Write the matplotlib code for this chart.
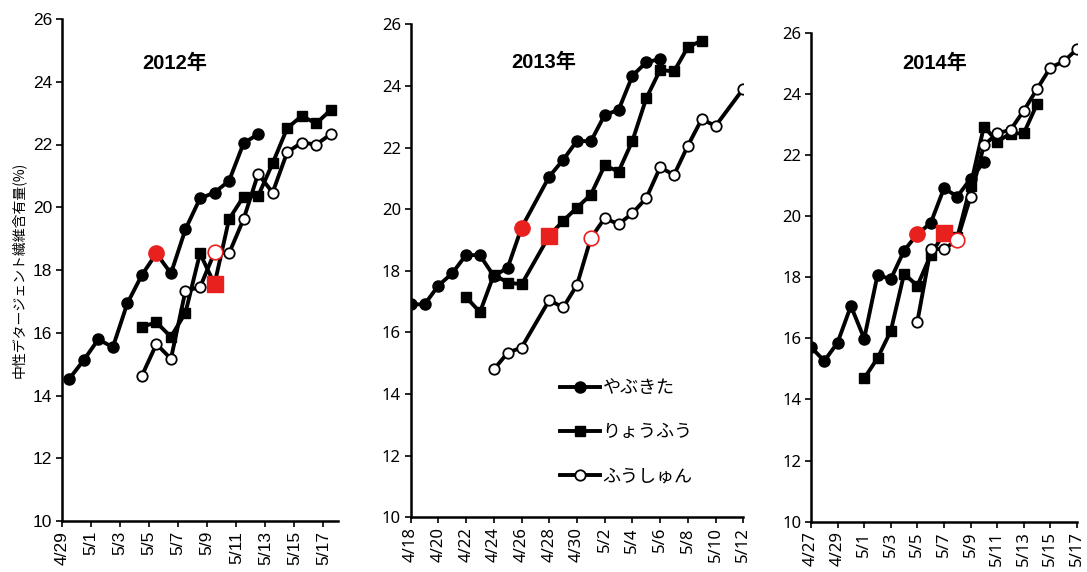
import datetime as dt
import numpy as np
import matplotlib
matplotlib.use("Agg")
import matplotlib.pyplot as plt

plt.rcParams['font.family'] = ['Liberation Sans', 'Noto Sans CJK JP', 'DejaVu Sans']

# ---- data ----
names = ['やぶきた', 'りょうふう', 'ふうしゅん']

# 2012
yab12_d = ['4/29', '4/30', '5/1', '5/2', '5/3', '5/4', '5/5', '5/6', '5/7', '5/8', '5/9', '5/10', '5/11', '5/12']
yab12_v = [14.53, 15.13, 15.79, 15.54, 16.94, 17.84, 18.53, 17.89, 19.30, 20.28, 20.47, 20.84, 22.04, 22.33]
ryo12_d = ['5/4', '5/5', '5/6', '5/7', '5/8', '5/9', '5/10', '5/11', '5/12', '5/13', '5/14', '5/15', '5/16', '5/17']
ryo12_v = [16.19, 16.33, 15.87, 16.64, 18.53, 17.55, 19.62, 20.34, 20.36, 21.40, 22.52, 22.91, 22.67, 23.10]
fus12_d = ['5/4', '5/5', '5/6', '5/7', '5/8', '5/9', '5/10', '5/11', '5/12', '5/13', '5/14', '5/15', '5/16', '5/17']
fus12_v = [14.63, 15.64, 15.17, 17.34, 17.45, 18.56, 18.53, 19.62, 21.06, 20.47, 21.75, 22.06, 22.00, 22.33]
red12 = ['5/5', '5/9', '5/9']

# 2013
yab13_d = ['4/18', '4/19', '4/20', '4/21', '4/22', '4/23', '4/24', '4/25', '4/26', '4/28', '4/29', '4/30',
           '5/1', '5/2', '5/3', '5/4', '5/5', '5/6']
yab13_v = [16.91, 16.91, 17.52, 17.92, 18.52, 18.50, 17.83, 18.10, 19.40, 21.06, 21.60, 22.22,
           22.20, 23.06, 23.22, 24.33, 24.77, 24.87]
ryo13_d = ['4/22', '4/23', '4/24', '4/25', '4/26', '4/28', '4/29', '4/30', '5/1', '5/2', '5/3', '5/4',
           '5/5', '5/6', '5/7', '5/8', '5/9']
ryo13_v = [17.14, 16.66, 17.87, 17.62, 17.56, 19.14, 19.62, 20.05, 20.47, 21.42, 21.22, 22.22,
           23.60, 24.52, 24.47, 25.26, 25.47]
fus13_d = ['4/24', '4/25', '4/26', '4/28', '4/29', '4/30', '5/1', '5/2', '5/3', '5/4', '5/5', '5/6',
           '5/7', '5/8', '5/9', '5/10', '5/12']
fus13_v = [14.80, 15.34, 15.51, 17.05, 16.81, 17.54, 19.06, 19.71, 19.51, 19.87, 20.36, 21.36,
           21.11, 22.06, 22.92, 22.70, 23.91]
red13 = ['4/26', '4/28', '5/1']

# 2014
yab14_d = ['4/27', '4/28', '4/29', '4/30', '5/1', '5/2', '5/3', '5/4', '5/5', '5/6', '5/7', '5/8', '5/9', '5/10']
yab14_v = [15.71, 15.26, 15.86, 17.06, 15.99, 18.07, 17.94, 18.87, 19.41, 19.77, 20.91, 20.64, 21.22, 21.76]
ryo14_d = ['5/1', '5/2', '5/3', '5/4', '5/5', '5/6', '5/7', '5/8', '5/9', '5/10', '5/11', '5/12', '5/13', '5/14']
ryo14_v = [14.69, 15.35, 16.24, 18.11, 17.72, 18.73, 19.44, 19.30, 21.00, 22.93, 22.44, 22.70, 22.71, 23.67]
fus14_d = ['5/5', '5/6', '5/7', '5/8', '5/9', '5/10', '5/11', '5/12', '5/13', '5/14', '5/15', '5/16', '5/17']
fus14_v = [16.55, 18.92, 18.92, 19.22, 20.64, 22.31, 22.71, 22.82, 23.45, 24.16, 24.86, 25.06, 25.46]
red14 = ['5/5', '5/7', '5/8']

panels = [
    dict(year=2012, start='4/29', end='5/18', last='5/17', shift=0.5,
         series=[(yab12_d, yab12_v), (ryo12_d, ryo12_v), (fus12_d, fus12_v)], red=red12,
         box=(62, 19, 338, 521), title_xy=(175, 63), tick_font='Liberation Sans', ysize=12.5, xsize=12.5),
    dict(year=2013, start='4/18', end='5/12', last='5/12', shift=0.0,
         series=[(yab13_d, yab13_v), (ryo13_d, ryo13_v), (fus13_d, fus13_v)], red=red13,
         box=(410.7, 24.3, 743.3, 517.3), title_xy=(544, 62), tick_font='Noto Sans', ysize=12, xsize=12),
    dict(year=2014, start='4/27', end='5/17', last='5/17', shift=0.0,
         series=[(yab14_d, yab14_v), (ryo14_d, ryo14_v), (fus14_d, fus14_v)], red=red14,
         box=(811, 32.7, 1077, 521.7), title_xy=(935, 63), tick_font='Noto Sans', ysize=12, xsize=12),
]

styles = [dict(marker='o', mfc='black', mec='black', ms=8),
          dict(marker='s', mfc='black', mec='black', ms=7.5),
          dict(marker='o', mfc='white', mec='black', ms=7.5, mew=1.3)]
red_styles = [dict(marker='o', mfc='#e8201e', mec='#e8201e', ms=11),
              dict(marker='s', mfc='#e8201e', mec='#e8201e', ms=11),
              dict(marker='o', mfc='white', mec='#e8201e', ms=10.5, mew=1.2)]


def to_num(year, s):
    m, d = s.split('/')
    return dt.date(year, int(m), int(d)).toordinal()


W, H = 1087, 572
fig = plt.figure(figsize=(W / 100, H / 100), dpi=100)

for p in panels:
    x0, y0, x1, y1 = p['box']
    ax = fig.add_axes([x0 / W, 1 - y1 / H, (x1 - x0) / W, (y1 - y0) / H])
    yr = p['year']
    base = to_num(yr, p['start'])
    lines = []
    for (dates, vals), st, rst, rd in zip(p['series'], styles, red_styles, p['red']):
        xs = np.array([to_num(yr, d) - base for d in dates]) + p['shift']
        ln, = ax.plot(xs, vals, color='black', lw=2.8, linestyle='-', zorder=3, **st)
        lines.append(ln)
        i = dates.index(rd)
        ax.plot(xs[i], vals[i], linestyle='none', zorder=5, **rst)

    ax.set_xlim(0, to_num(yr, p['end']) - base)
    ax.set_ylim(10, 26)
    ax.set_yticks(np.arange(10, 27, 2))
    ticks = np.arange(0, to_num(yr, p['last']) - base + 1, 2)
    ax.set_xticks(ticks)
    labels = []
    for t in ticks:
        d = dt.date.fromordinal(int(base + t))
        labels.append(f'{d.month}/{d.day}')
    ax.set_xticklabels(labels, rotation=90, fontsize=p['xsize'], family=p['tick_font'])
    for lab in ax.get_yticklabels():
        lab.set_fontsize(p['ysize'])
        lab.set_family(p['tick_font'])
    for side in ['top', 'right']:
        ax.spines[side].set_visible(False)
    for side in ['left', 'bottom']:
        ax.spines[side].set_linewidth(1.8)
    ax.tick_params(direction='out', length=4, width=1.2, pad=3)
    ax.set_facecolor('none')

    tx, ty = p['title_xy']
    fig.text(tx / W, 1 - ty / H, f'{yr}年', ha='center', va='center', fontsize=14.5,
             fontweight='bold', family=['Liberation Sans', 'Noto Sans CJK JP', 'DejaVu Sans'])

    if yr == 2013:
        ax.legend(lines, names, loc='upper left', bbox_to_anchor=(0.449, 0.28),
                  frameon=False, handlelength=2.2, handletextpad=0.15,
                  labelspacing=1.45, borderpad=0, borderaxespad=0, numpoints=1,
                  prop={'family': ['Noto Sans CJK JP', 'DejaVu Sans'], 'size': 13})

fig.text(18 / W, 1 - 270 / H, '中性デタージェント繊維含有量(%)', rotation=90, ha='center', va='center',
         fontsize=10, family=['Noto Sans CJK JP', 'DejaVu Sans'])

fig.savefig('out.png', dpi=100)
